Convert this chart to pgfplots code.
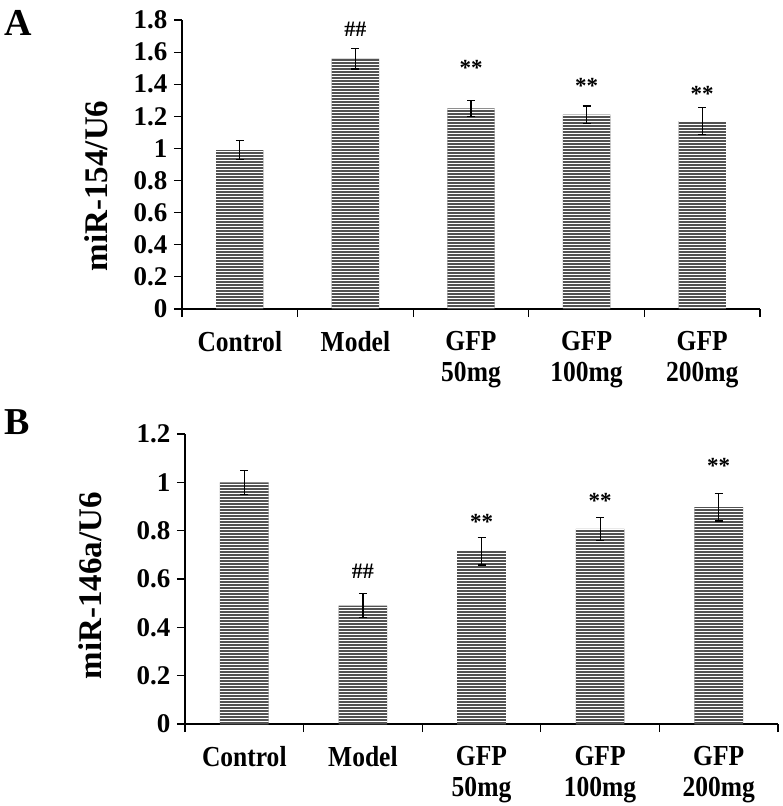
\documentclass[border=0pt]{standalone}
\usepackage{fontspec}
\setmainfont{Liberation Serif}
\newfontfamily\catfont{Liberation Serif}[FakeStretch=0.88]
\usepackage{pgfplots}
\pgfplotsset{compat=1.18}
\usetikzlibrary{patterns}

\pgfdeclarepatternformonly{hlinesw}{\pgfpoint{-1pt}{-1pt}}{\pgfpoint{400pt}{3pt}}{\pgfpoint{400pt}{3pt}}{%
  \pgfsetlinewidth{0.9pt}%
  \pgfpathmoveto{\pgfpoint{-1pt}{1pt}}%
  \pgfpathlineto{\pgfpoint{401pt}{1pt}}%
  \pgfusepath{stroke}}

\tikzset{ann/.style={font=\bfseries\fontsize{23}{23}\selectfont, anchor=center}}
\pgfplotsset{
  panel/.style={
    scale only axis,
    xmin=0, xmax=5, ymin=0,
    clip=false,
    axis x line*=bottom, axis y line*=left,
    axis line style={line width=1.2pt, -},
    xtick={0,1,2,3,4,5},
    xticklabels={},
    extra x ticks={0.5,1.5,2.5,3.5,4.5},
    extra x tick labels={Control, Model, GFP\\50mg, GFP\\100mg, GFP\\200mg},
    extra x tick style={major tick length=0pt},
    tick align=outside,
    major tick length=8pt,
    tick style={black, line width=1.2pt},
    /pgf/number format/assume math mode=true,
    yticklabel style={font=\bfseries\fontsize{27}{27}\selectfont, xshift=-3pt},
    xticklabel style={font=\catfont\bfseries\fontsize{29}{31}\selectfont, align=center, yshift=-19pt},
    ylabel style={font=\bfseries\fontsize{33}{33}\selectfont},
  },
  mybar/.style={ybar, bar width=0.41, draw=none, fill=black!68,
      postaction={pattern=hlinesw, pattern color=white},
      error bars/.cd, y dir=both, y explicit,
      error bar style={line width=1.2pt, black},
      error mark options={rotate=90, line width=1.2pt, mark size=4pt, black}},
}

\begin{document}
\begin{tikzpicture}
\begin{axis}[panel,
  at={(182pt,-309pt)}, anchor=south west,
  width=578pt, height=289pt,
  ymax=1.8,
  ytick={0,0.2,0.4,0.6,0.8,1,1.2,1.4,1.6,1.8},
  ylabel={miR-154/U6},
  ylabel style={at={(axis description cs:-0.148,0.426)}, anchor=center},
]
\addplot[mybar] coordinates {
  (0.5,0.99) +- (0,0.060)
  (1.5,1.56) +- (0,0.065)
  (2.5,1.25) +- (0,0.050)
  (3.5,1.21) +- (0,0.055)
  (4.5,1.17) +- (0,0.085)
};
\node[ann, font=\bfseries\fontsize{22}{22}\selectfont] at (axis cs:1.5,1.74) {\#\#};
\node[ann] at (axis cs:2.5,1.50) {**};
\node[ann] at (axis cs:3.5,1.39) {**};
\node[ann] at (axis cs:4.5,1.34) {**};
\end{axis}

\begin{axis}[panel,
  at={(185pt,-724pt)}, anchor=south west,
  width=593pt, height=290pt,
  ymax=1.2,
  ytick={0,0.2,0.4,0.6,0.8,1,1.2},
  ylabel={miR-146a/U6},
  ylabel style={at={(axis description cs:-0.16,0.476)}, anchor=center},
]
\addplot[mybar] coordinates {
  (0.5,1.00) +- (0,0.050)
  (1.5,0.49) +- (0,0.050)
  (2.5,0.715) +- (0,0.057)
  (3.5,0.807) +- (0,0.047)
  (4.5,0.897) +- (0,0.057)
};
\node[ann, font=\bfseries\fontsize{22}{22}\selectfont] at (axis cs:1.5,0.63) {\#\#};
\node[ann] at (axis cs:2.5,0.835) {**};
\node[ann] at (axis cs:3.5,0.925) {**};
\node[ann] at (axis cs:4.5,1.067) {**};
\end{axis}

\node[anchor=north west, inner sep=0pt, font=\bfseries\fontsize{38}{38}\selectfont] at (4pt,-10pt) {A};
\node[anchor=north west, inner sep=0pt, font=\bfseries\fontsize{38}{38}\selectfont] at (4pt,-409pt) {B};

\pgfresetboundingbox
\useasboundingbox (0,0) rectangle (783pt,-806pt);
\end{tikzpicture}
\end{document}
